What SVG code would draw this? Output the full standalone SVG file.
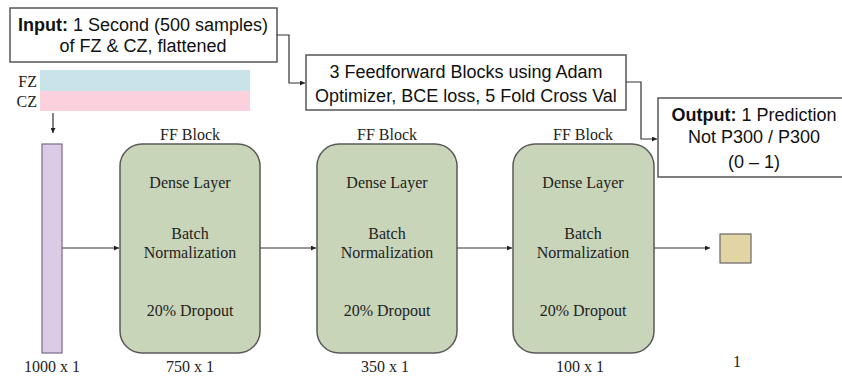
<svg xmlns="http://www.w3.org/2000/svg" width="842" height="376" viewBox="0 0 842 376">
<style>
.sans{font-family:"Liberation Sans",Arial,sans-serif;font-size:18px;fill:#111}
.serif{font-family:"Liberation Serif","Times New Roman",serif;font-size:16px;fill:#222}
.box{fill:#fff;stroke:#555;stroke-width:1.5}
.ff{fill:#c9d5b9;stroke:#5a5a5a;stroke-width:1.5}
.line{fill:none;stroke:#333;stroke-width:1.2}
</style>
<defs>
<marker id="arr" viewBox="0 0 10 10" refX="10" refY="5" markerWidth="5" markerHeight="5" orient="auto" markerUnits="userSpaceOnUse">
<path d="M0,0 L10,5 L0,10 z" fill="#222"/>
</marker>
</defs>
<rect width="842" height="376" fill="#fff"/>

<g id="input">
<rect class="box" x="10" y="8" width="267" height="54"/>
<text class="sans" x="143" y="31" text-anchor="middle"><tspan font-weight="bold">Input:</tspan> 1 Second (500 samples)</text>
<text class="sans" x="143" y="52" text-anchor="middle">of FZ &amp; CZ, flattened</text>
</g>

<g id="signals">
<rect x="40" y="70" width="210" height="21" fill="#c9e3ea"/>
<rect x="40" y="91" width="210" height="20" fill="#fcd0dc"/>
<text class="serif" x="37" y="87" text-anchor="end">FZ</text>
<text class="serif" x="37" y="107" text-anchor="end">CZ</text>
</g>

<g id="training">
<rect class="box" x="306" y="55" width="320" height="55"/>
<text class="sans" x="466" y="78" text-anchor="middle">3 Feedforward Blocks using Adam</text>
<text class="sans" x="466" y="102" text-anchor="middle">Optimizer, BCE loss, 5 Fold Cross Val</text>
</g>

<g id="output">
<rect class="box" x="658" y="98" width="200" height="79"/>
<text class="sans" x="754" y="121" text-anchor="middle"><tspan font-weight="bold">Output:</tspan> 1 Prediction</text>
<text class="sans" x="754" y="143" text-anchor="middle">Not P300 / P300</text>
<text class="sans" x="754" y="168" text-anchor="middle">(0 – 1)</text>
</g>

<g id="input-vector">
<rect x="42" y="144" width="20" height="209" fill="#dccbe6" stroke="#7a6a8a" stroke-width="1.2"/>
<text class="serif" x="52" y="372" text-anchor="middle">1000 x 1</text>
</g>

<g id="ff1">
<text class="serif" x="190" y="140" text-anchor="middle">FF Block</text>
<rect class="ff" x="120" y="144" width="140" height="209" rx="22"/>
<text class="serif" x="190" y="188" text-anchor="middle">Dense Layer</text>
<text class="serif" x="190" y="239" text-anchor="middle">Batch</text>
<text class="serif" x="190" y="258" text-anchor="middle">Normalization</text>
<text class="serif" x="190" y="316" text-anchor="middle">20% Dropout</text>
<text class="serif" x="190" y="372" text-anchor="middle">750 x 1</text>
</g>

<g id="ff2">
<text class="serif" x="387" y="140" text-anchor="middle">FF Block</text>
<rect class="ff" x="317" y="144" width="140" height="209" rx="22"/>
<text class="serif" x="387" y="188" text-anchor="middle">Dense Layer</text>
<text class="serif" x="387" y="239" text-anchor="middle">Batch</text>
<text class="serif" x="387" y="258" text-anchor="middle">Normalization</text>
<text class="serif" x="387" y="316" text-anchor="middle">20% Dropout</text>
<text class="serif" x="385" y="372" text-anchor="middle">350 x 1</text>
</g>

<g id="ff3">
<text class="serif" x="583" y="140" text-anchor="middle">FF Block</text>
<rect class="ff" x="513" y="144" width="141" height="209" rx="22"/>
<text class="serif" x="583" y="188" text-anchor="middle">Dense Layer</text>
<text class="serif" x="583" y="239" text-anchor="middle">Batch</text>
<text class="serif" x="583" y="258" text-anchor="middle">Normalization</text>
<text class="serif" x="583" y="316" text-anchor="middle">20% Dropout</text>
<text class="serif" x="580" y="372" text-anchor="middle">100 x 1</text>
</g>

<g id="out-unit">
<rect x="720" y="234" width="31" height="29" fill="#e3d4a4" stroke="#666" stroke-width="1.2"/>
<text class="serif" x="737" y="367" text-anchor="middle">1</text>
</g>

<g id="connectors">
<path class="line" d="M277,35 H289 V83 H305" marker-end="url(#arr)"/>
<path class="line" d="M626,82 H641 V139 H657" marker-end="url(#arr)"/>
<path class="line" d="M53,113 V133" marker-end="url(#arr)"/>
<path class="line" d="M62,248 H119" marker-end="url(#arr)"/>
<path class="line" d="M260,248 H316" marker-end="url(#arr)"/>
<path class="line" d="M457,248 H512" marker-end="url(#arr)"/>
<path class="line" d="M654,248 H710" marker-end="url(#arr)"/>
</g>
</svg>
